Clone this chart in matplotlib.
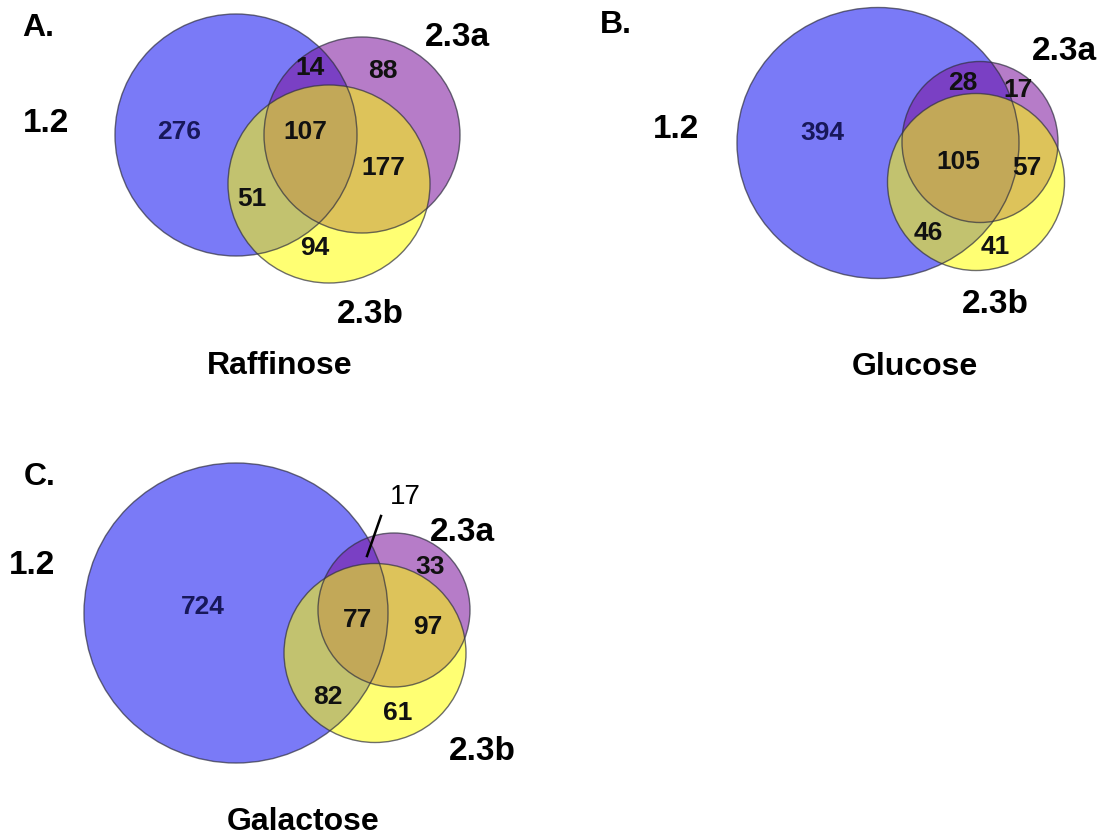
import matplotlib.pyplot as plt
from matplotlib.patches import Ellipse

plt.rcParams['font.family'] = ['Liberation Sans', 'DejaVu Sans']

# region order: only 1.2, only 2.3a, only 2.3b, 1.2&2.3a, 1.2&2.3b, 2.3a&2.3b, all three
set_names = ["1.2", "2.3a", "2.3b"]
panel_letters = ["A.", "B.", "C."]
conditions = ["Raffinose", "Glucose", "Galactose"]
raffinose = [276, 88, 94, 14, 51, 177, 107]
glucose = [394, 17, 41, 28, 46, 57, 105]
galactose = [724, 33, 61, 17, 82, 97, 77]
counts = [raffinose, glucose, galactose]

# layout (pixel coordinates, y down)
circles = [
    [(236, 135, 242, 242), (362, 135, 196, 196), (329, 184, 202, 198)],
    [(878, 143, 282, 271), (980, 142, 156, 161), (976, 182, 177, 177)],
    [(236, 613, 304, 300), (394, 610, 152, 154), (375, 653, 182, 179)],
]
region_pos = [
    [(179, 132), (383, 71), (315, 248), (310, 68), (252, 199), (383, 168), (305, 132)],
    [(822, 133), (1018, 90), (995, 247), (963, 83), (928, 233), (1027, 168), (958, 162)],
    [(203, 607), (430, 567), (398, 713), None, (328, 697), (428, 627), (358, 620)],
]
name_pos = [
    [(46, 123), (457, 37), (370, 314)],
    [(676, 130), (1064, 52), (995, 304)],
    [(32, 565), (462, 532), (482, 751)],
]
letter_pos = [(38, 28), (616, 25), (40, 477)]
title_pos = [(280, 366), (915, 367), (303, 822)]

colors = ['#0000f0', '#7a119b', '#ffff00']
alphas = [0.52, 0.55, 0.55]

fig = plt.figure(figsize=(11.05, 8.38), dpi=100)
ax = fig.add_axes([0, 0, 1, 1])
ax.set_xlim(0, 1105)
ax.set_ylim(838, 0)
ax.axis('off')

for p in range(3):
    for s in range(3):
        cx, cy, w, h = circles[p][s]
        ax.add_patch(Ellipse((cx, cy), w, h, facecolor=colors[s], alpha=alphas[s],
                             edgecolor='none', zorder=1 + s))
        ax.add_patch(Ellipse((cx, cy), w, h, facecolor='none', edgecolor='#303040',
                             lw=1.0, alpha=0.7, zorder=5))
    for r, n in enumerate(counts[p]):
        pos = region_pos[p][r]
        if pos is None:
            continue
        ax.text(pos[0], pos[1], str(n), ha='center', va='center', fontsize=19,
                fontweight='bold', color='#18185a' if r == 0 else '#111111', zorder=6)
    for s in range(3):
        x, y = name_pos[p][s]
        ax.text(x, y, set_names[s], ha='center', va='center', fontsize=24,
                fontweight='bold', color='black')
    ax.text(*letter_pos[p], panel_letters[p], ha='center', va='center', fontsize=23,
            fontweight='bold')
    ax.text(*title_pos[p], conditions[p], ha='center', va='center', fontsize=23,
            fontweight='bold')

# the small 1.2 & 2.3a count in panel C sits outside with a leader line
ax.text(405, 497, str(galactose[3]), ha='center', va='center', fontsize=20, color='black')
ax.plot([381, 367], [516, 556], color='black', lw=1.8, zorder=7)

fig.savefig("out.png", dpi=100)
